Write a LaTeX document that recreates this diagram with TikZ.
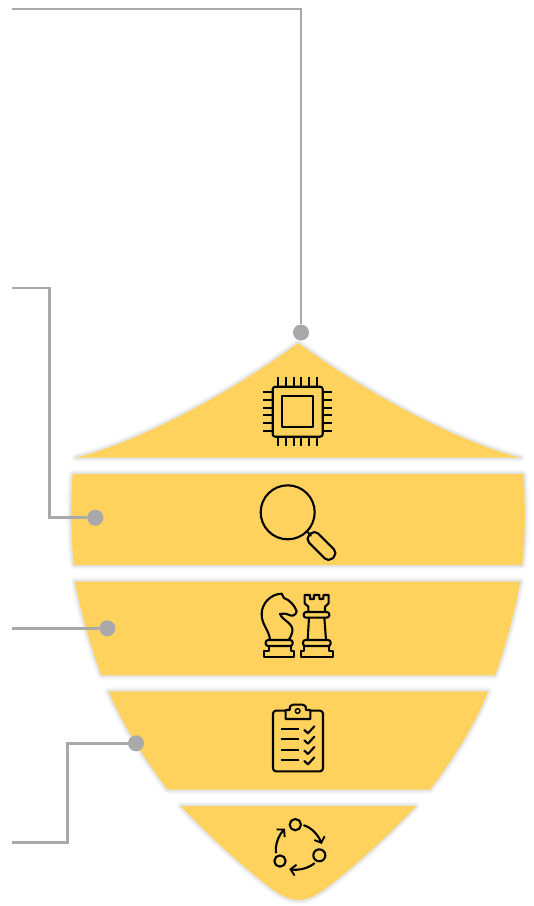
\documentclass[tikz,border=0pt]{standalone}
\usetikzlibrary{arrows.meta}
\definecolor{shieldyellow}{HTML}{FFD25E}
\definecolor{leadgray}{HTML}{A9A9A9}
\tikzset{
  shieldpart/.style={fill=shieldyellow,
    preaction={draw=black,opacity=.025,line width=9pt,line join=round},
    preaction={draw=black,opacity=.035,line width=6pt,line join=round},
    preaction={draw=black,opacity=.05,line width=3.5pt,line join=round}},
  leadline/.style={draw=leadgray,line width=2.5pt},
  leaddot/.style={circle,fill=leadgray,inner sep=0pt,minimum size=16pt},
  iconline/.style={draw=black,line width=2.1pt,line join=round,line cap=round},
  cycletip/.style={iconline,-{Straight Barb[length=5pt,width=11pt,line width=1.9pt]}}
}
\begin{document}
\begin{tikzpicture}[x=1pt,y=-1pt]
  \useasboundingbox (0,0) rectangle (534,906);

  % shield parts, top to bottom
  \path[shieldpart] (298.3,343) .. controls (225,397) and (135,443) .. (76,457.7)
    -- (520.7,457.7) .. controls (461.7,443) and (371.7,397) .. cycle;
  \path[shieldpart] (72.7,474) .. controls (70.5,500) and (70.5,540) .. (74,565)
    -- (522,565) .. controls (525.5,540) and (525.5,500) .. (523.3,474) -- cycle;
  \path[shieldpart] (75,581.7) .. controls (79,605) and (90,645) .. (101.3,675.3)
    -- (495,675.3) .. controls (506.3,645) and (516.3,605) .. (520.3,581.7) -- cycle;
  \path[shieldpart] (108.7,691.3) .. controls (120,720) and (145,760) .. (167.7,789.7)
    -- (430,789.7) .. controls (452.7,760) and (477.7,720) .. (488,691.3) -- cycle;
  \path[shieldpart] (181,806) .. controls (200,827) and (240,865) .. (272,889)
    .. controls (282,896) and (290,900) .. (298.5,900)
    .. controls (307,900) and (315,896) .. (325,889)
    .. controls (357,865) and (397,827) .. (416,806) -- cycle;

  % lead dots
  \node[leaddot] (chipdot) at (301,332.5) {};
  \node[leaddot] (lensdot) at (95.3,517.7) {};
  \node[leaddot] (chessdot) at (107.3,628.3) {};
  \node[leaddot] (listdot) at (136,743.3) {};

  % free ends of the leads
  \coordinate (chipend) at (12,9);
  \coordinate (lensend) at (12,288);
  \coordinate (chessend) at (12,628.3);
  \coordinate (listend) at (12,842.5);
  \coordinate (lenselbow) at (49.5,288);
  \coordinate (listelbow) at (67.7,842.5);

  % leads
  \draw[leadline] (chipend) -| (chipdot);
  \draw[leadline] (lensend) -- (lenselbow) |- (lensdot);
  \draw[leadline] (chessend) -- (chessdot);
  \draw[leadline] (listend) -- (listelbow) |- (listdot);

  % chip icon
  \draw[iconline,rounded corners=2.5pt] (272.7,386.7) rectangle (322.7,436.7);
  \draw[iconline,line cap=butt] (282.3,396) rectangle (313.3,427.3);
  \foreach \pin in {0,...,5} {
    \draw[iconline,line cap=butt] (263,392.3+7.7*\pin) -- (272.7,392.3+7.7*\pin);
    \draw[iconline,line cap=butt] (322.7,392.3+7.7*\pin) -- (332.3,392.3+7.7*\pin);
    \draw[iconline,line cap=butt] (278.3+7.7*\pin,377) -- (278.3+7.7*\pin,386.7);
    \draw[iconline,line cap=butt] (278.3+7.7*\pin,436.7) -- (278.3+7.7*\pin,446.3);
  }

  % magnifier icon
  \draw[iconline] (287.7,512.3) circle (27);
  \draw[iconline] (307,531.5) -- (311,535.5);
  \draw[iconline,rounded corners=5.5pt,rotate around={-45:(321.5,546)}]
    (305,539.5) rectangle (338,552.5);

  % icons below are written in crop coordinates
  \begin{scope}[shift={(60,570)},x=1pt/3,y=-1pt/3]
    % knight
    \draw[iconline] (613,262) -- (703,262) -- (703,243) -- (692,243) -- (692,228)
      -- (628,228) -- (628,243) -- (613,243) -- cycle;
    \draw[iconline,rounded corners=2.5pt] (617,210) rectangle (698,228);
    \draw[iconline] (630,210) .. controls (628,180) and (604,165) .. (605,130)
      .. controls (606,100) and (632,72) .. (665,71) -- (672,84)
      .. controls (690,90) and (705,108) .. (710,124)
      .. controls (707,136) and (697,140) .. (688,135)
      .. controls (678,130) and (668,130) .. (660,132)
      .. controls (668,152) and (702,160) .. (697,185)
      .. controls (696,195) and (690,203) .. (686,210);
    % rook
    \draw[iconline] (722,262) -- (818,262) -- (818,243) -- (808,243) -- (808,228)
      -- (733,228) -- (733,243) -- (722,243) -- cycle;
    \draw[iconline,rounded corners=2.5pt] (729,210) rectangle (812,228);
    \draw[iconline] (743,210) -- (747,143);
    \draw[iconline] (798,210) -- (793,143);
    \draw[iconline,rounded corners=2.5pt] (731,126) rectangle (808,143);
    \draw[iconline] (745,126) -- (745,110) -- (734,100) -- (734,75) -- (750,75)
      -- (750,87) -- (762,87) -- (762,75) -- (778,75) -- (778,87) -- (790,87)
      -- (790,75) -- (806,75) -- (806,100) -- (795,110) -- (795,126);
    % clipboard
    \draw[iconline,rounded corners=3pt] (639,422) rectangle (789,604);
    \draw[iconline,fill=shieldyellow] (677,447) -- (677,420) -- (689,420)
      .. controls (689,408) and (692,404) .. (700,404) -- (727,404)
      .. controls (735,404) and (738,408) .. (738,420) -- (751,420) -- (751,447) -- cycle;
    \draw[iconline,line width=1.5pt] (713,423) circle (7);
    \foreach \row in {0,31,62,93} {
      \draw[iconline,line cap=butt] (663,477+\row) -- (717,477+\row);
      \draw[iconline] (733,480+\row) -- (744,490+\row) -- (763,469+\row);
    }
    % cycle
    \draw[iconline] (706,764) circle (17);
    \draw[iconline] (778,856) circle (18);
    \draw[iconline] (660,873) circle (17);
    \draw[cycletip] (732,766) .. controls (755,773) and (775,795) .. (785,822);
    \draw[cycletip] (763,880) .. controls (745,895) and (715,902) .. (688,897);
    \draw[cycletip] (648,848) .. controls (645,825) and (655,797) .. (675,776);
  \end{scope}
\end{tikzpicture}
\end{document}
